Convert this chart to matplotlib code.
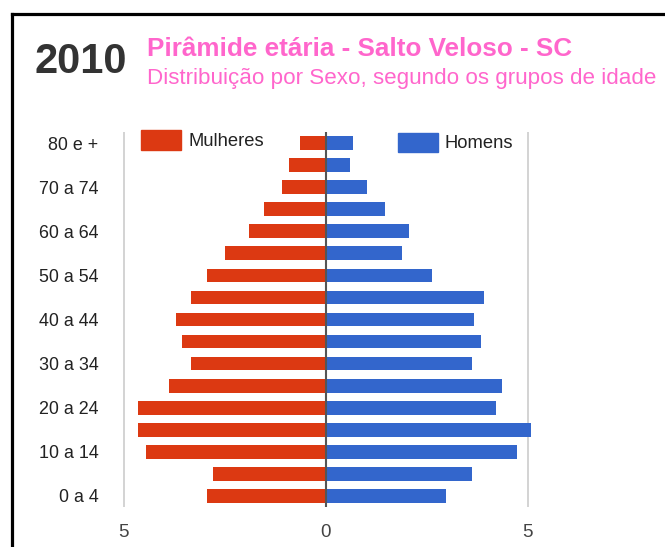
import matplotlib
matplotlib.use("Agg")
import matplotlib.pyplot as plt
from matplotlib.patches import Rectangle
from matplotlib.lines import Line2D

plt.rcParams['font.family'] = ['Liberation Sans', 'DejaVu Sans']

# Age groups from youngest to oldest
age_groups = ["0 a 4", "5 a 9", "10 a 14", "15 a 19", "20 a 24", "25 a 29",
              "30 a 34", "35 a 39", "40 a 44", "45 a 49", "50 a 54", "55 a 59",
              "60 a 64", "65 a 69", "70 a 74", "75 a 79", "80 e +"]
mulheres = [2.95, 2.80, 4.45, 4.64, 4.64, 3.89, 3.33, 3.55, 3.70, 3.33,
            2.95, 2.50, 1.90, 1.53, 1.07, 0.92, 0.63]
homens = [2.98, 3.61, 4.74, 5.07, 4.22, 4.36, 3.61, 3.84, 3.66, 3.92,
          2.64, 1.89, 2.07, 1.48, 1.02, 0.61, 0.68]
xticks = [-5, 0, 5]
xticklabels = ["5", "0", "5"]

W, H = 665, 547
fig = plt.figure(figsize=(W / 100, H / 100), dpi=100)
fig.patch.set_facecolor("white")

# plot area in pixels
scale = 40.4
x0 = 325.7
xmin, xmax = -5.3, 5.3
left_px = x0 + xmin * scale
right_px = x0 + xmax * scale
top_px, bot_px = 132, 507
ax = fig.add_axes([left_px / W, 1 - bot_px / H, (right_px - left_px) / W, (bot_px - top_px) / H])
ax.set_xlim(xmin, xmax)
ax.set_ylim(-0.5, len(age_groups) - 0.5)

red = "#DC3912"
blue = "#3366CC"
y = list(range(len(age_groups)))
ax.barh(y, [-v for v in mulheres], height=0.62, color=red, zorder=3)
ax.barh(y, homens, height=0.62, color=blue, zorder=3)

for xv in (-5, 5):
    ax.axvline(xv, color="#cccccc", lw=1.2, zorder=1)
ax.axvline(0, color="#555555", lw=1.5, zorder=4)

for s in ax.spines.values():
    s.set_visible(False)
ax.set_yticks(y[::2])
ax.set_yticklabels(age_groups[::2], fontsize=12.9, color="#222222")
ax.set_xticks(xticks)
ax.set_xticklabels(xticklabels, fontsize=13.5, color="#444444")
ax.tick_params(length=0)
ax.tick_params(axis='y', pad=(left_px - 102))
ax.tick_params(axis='x', pad=12)

# legend (boxes and text in pixel coords)
def px(xp, yp):
    return xp / W, 1 - yp / H

fig.patches.append(Rectangle(px(141, 150), 39.5 / W, 20 / H, transform=fig.transFigure,
                             color=red, zorder=5))
fig.text(*px(188, 141), "Mulheres", fontsize=13.2, color="#222222", va="center", ha="left")
fig.patches.append(Rectangle(px(398, 152), 39.5 / W, 19 / H, transform=fig.transFigure,
                             color=blue, zorder=5))
fig.text(*px(445, 143), "Homens", fontsize=13.2, color="#222222", va="center", ha="left")

# black border (top and left)
fig.add_artist(Line2D([11.5 / W, 11.5 / W], [0, 1 - 13.5 / H], transform=fig.transFigure,
                      color="black", lw=2.3, solid_capstyle="projecting"))
fig.add_artist(Line2D([11.5 / W, 1], [1 - 13.5 / H, 1 - 13.5 / H], transform=fig.transFigure,
                      color="black", lw=2.3, solid_capstyle="projecting"))

# titles
fig.text(*px(34, 62), "2010", fontsize=30, fontweight="bold", color="#333333",
         va="center", ha="left")
fig.text(*px(147, 56), "Pirâmide etária - Salto Veloso - SC", fontsize=18.8,
         fontweight="bold", color="#FF66CC", va="baseline", ha="left")
fig.text(*px(147, 84), "Distribuição por Sexo, segundo os grupos de idade", fontsize=16.1,
         color="#FF66CC", va="baseline", ha="left")

fig.savefig("out.png", dpi=100, facecolor="white")
